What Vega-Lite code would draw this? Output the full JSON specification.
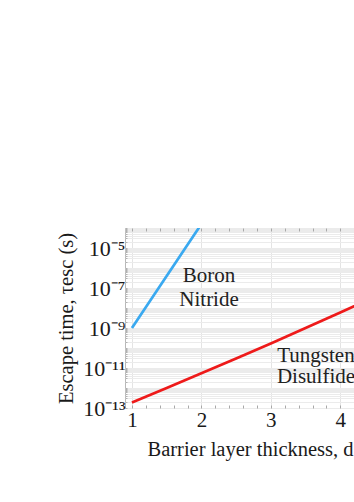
{
  "$schema": "https://vega.github.io/schema/vega-lite/v6.json",
  "width": 250,
  "height": 180,
  "autosize": "none",
  "padding": {"left": 125, "top": 228, "right": 0, "bottom": 94},
  "background": "white",
  "config": {
    "view": {"stroke": "#b8b8b8", "strokeWidth": 1},
    "font": "Liberation Serif",
    "text": {"font": "Liberation Serif"}
  },
  "datasets": {
    "lines": [
      {"material": "Boron Nitride", "d": 1.0, "tau": 1.0e-9},
      {"material": "Boron Nitride", "d": 1.25, "tau": 2.0e-8},
      {"material": "Boron Nitride", "d": 1.5, "tau": 4.0e-7},
      {"material": "Boron Nitride", "d": 1.75, "tau": 7.9e-6},
      {"material": "Boron Nitride", "d": 2.0, "tau": 1.58e-4},
      {"material": "Tungsten Disulfide", "d": 1.0, "tau": 1.9e-13},
      {"material": "Tungsten Disulfide", "d": 1.5, "tau": 1.0e-12},
      {"material": "Tungsten Disulfide", "d": 2.0, "tau": 5.4e-12},
      {"material": "Tungsten Disulfide", "d": 2.5, "tau": 3.0e-11},
      {"material": "Tungsten Disulfide", "d": 3.0, "tau": 1.7e-10},
      {"material": "Tungsten Disulfide", "d": 3.5, "tau": 1.0e-9},
      {"material": "Tungsten Disulfide", "d": 4.0, "tau": 6.0e-9},
      {"material": "Tungsten Disulfide", "d": 4.5, "tau": 3.7e-8}
    ],
    "labels": [
      {"label": "Boron", "d": 2.11, "tau": 1.93e-7},
      {"label": "Nitride", "d": 2.11, "tau": 1.26e-8},
      {"label": "Tungsten", "d": 3.65, "tau": 2.07e-11},
      {"label": "Disulfide", "d": 3.65, "tau": 1.72e-12}
    ]
  },
  "layer": [
    {
      "data": {"name": "lines"},
      "mark": {"type": "line", "clip": true, "strokeWidth": 2.7},
      "encoding": {
        "x": {
          "field": "d",
          "type": "quantitative",
          "scale": {"domain": [0.9, 4.5], "nice": false, "zero": false},
          "axis": {
            "orient": "bottom",
            "values": [1, 1.2, 1.4, 1.6, 1.8, 2, 2.2, 2.4, 2.6, 2.8, 3, 3.2, 3.4, 3.6, 3.8, 4, 4.2, 4.4],
            "labelExpr": "abs(datum.value - round(datum.value)) < 0.001 ? format(datum.value, 'd') : ''",
            "labelOverlap": false,
            "labelFlush": false,
            "grid": true,
            "gridColor": "#e4e4e4",
            "gridOpacity": {"condition": {"test": "abs(datum.value - round(datum.value)) < 0.001", "value": 1}, "value": 0},
            "tickSize": -3,
            "tickColor": "#a8a8a8",
            "domain": false,
            "labelFont": "Liberation Serif",
            "labelFontSize": 21,
            "labelColor": "#1a1a1a",
            "labelPadding": 4,
            "title": "Barrier layer thickness, d",
            "titleFont": "Liberation Serif",
            "titleFontSize": 20.5,
            "titleFontWeight": "normal",
            "titleColor": "#1a1a1a",
            "titlePadding": 9
          }
        },
        "y": {
          "field": "tau",
          "type": "quantitative",
          "scale": {"type": "log", "domain": [1e-13, 1e-4], "nice": false},
          "axis": {
            "orient": "left",
            "values": [1e-13, 2e-13, 3e-13, 4e-13, 5e-13, 6e-13, 7e-13, 8e-13, 9e-13,
                       1e-12, 2e-12, 3e-12, 4e-12, 5e-12, 6e-12, 7e-12, 8e-12, 9e-12,
                       1e-11, 2e-11, 3e-11, 4e-11, 5e-11, 6e-11, 7e-11, 8e-11, 9e-11,
                       1e-10, 2e-10, 3e-10, 4e-10, 5e-10, 6e-10, 7e-10, 8e-10, 9e-10,
                       1e-9, 2e-9, 3e-9, 4e-9, 5e-9, 6e-9, 7e-9, 8e-9, 9e-9,
                       1e-8, 2e-8, 3e-8, 4e-8, 5e-8, 6e-8, 7e-8, 8e-8, 9e-8,
                       1e-7, 2e-7, 3e-7, 4e-7, 5e-7, 6e-7, 7e-7, 8e-7, 9e-7,
                       1e-6, 2e-6, 3e-6, 4e-6, 5e-6, 6e-6, 7e-6, 8e-6, 9e-6,
                       1e-5, 2e-5, 3e-5, 4e-5, 5e-5, 6e-5, 7e-5, 8e-5, 9e-5, 1e-4],
            "labelExpr": "abs(log(datum.value)/LN10 - round(log(datum.value)/LN10)) > 0.01 ? '' : round(log(datum.value)/LN10) == -5 ? '10⁻⁵' : round(log(datum.value)/LN10) == -7 ? '10⁻⁷' : round(log(datum.value)/LN10) == -9 ? '10⁻⁹' : round(log(datum.value)/LN10) == -11 ? '10⁻¹¹' : round(log(datum.value)/LN10) == -13 ? '10⁻¹³' : ''",
            "labelOverlap": false,
            "labelFlush": false,
            "grid": true,
            "gridColor": "#ebebeb",
            "tickSize": -2,
            "tickColor": "#b0b0b0",
            "domain": false,
            "labelFont": "Liberation Serif",
            "labelFontSize": 22,
            "labelColor": "#1a1a1a",
            "labelPadding": 2,
            "title": "Escape time, τesc (s)",
            "titleFont": "Liberation Serif",
            "titleFontSize": 20.5,
            "titleFontWeight": "normal",
            "titleColor": "#1a1a1a",
            "titlePadding": 6
          }
        },
        "color": {
          "field": "material",
          "type": "nominal",
          "scale": {"domain": ["Boron Nitride", "Tungsten Disulfide"], "range": ["#3aa9f0", "#ee1a1a"]},
          "legend": null
        }
      }
    },
    {
      "data": {"name": "labels"},
      "mark": {"type": "text", "align": "center", "baseline": "alphabetic", "fontSize": 21, "font": "Liberation Serif", "color": "#222222"},
      "encoding": {
        "x": {
          "field": "d",
          "type": "quantitative",
          "axis": {
            "orient": "top",
            "values": [1, 1.2, 1.4, 1.6, 1.8, 2, 2.2, 2.4, 2.6, 2.8, 3, 3.2, 3.4, 3.6, 3.8, 4, 4.2, 4.4],
            "labels": false,
            "grid": false,
            "domain": false,
            "tickSize": -3,
            "tickColor": "#a8a8a8",
            "title": null
          }
        },
        "y": {"field": "tau", "type": "quantitative"},
        "text": {"field": "label", "type": "nominal"}
      }
    }
  ],
  "resolve": {"axis": {"x": "independent"}}
}
